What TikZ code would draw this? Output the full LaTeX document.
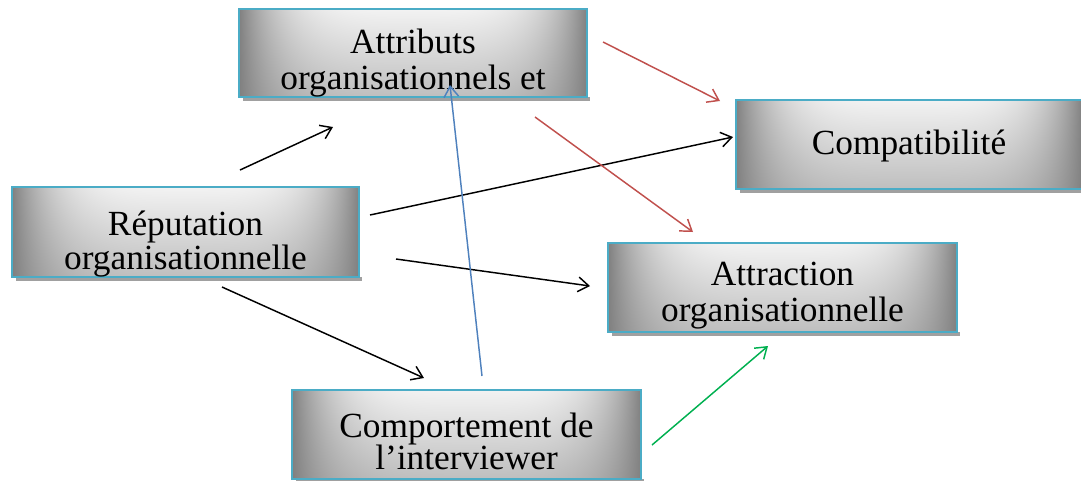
\documentclass[tikz,border=0pt]{standalone}
\usepackage{fontspec}
\setmainfont{Liberation Serif}
\usetikzlibrary{arrows.meta}
\definecolor{bordc}{HTML}{4BACC6}
\definecolor{shadc}{HTML}{A0A0A0}
\definecolor{redc}{HTML}{C0504D}
\definecolor{bluec}{HTML}{4F81BD}
\definecolor{greenc}{HTML}{00B050}
\pgfdeclarefunctionalshading{boxshade}{\pgfpoint{0bp}{0bp}}{\pgfpoint{100bp}{100bp}}{}{
  25 sub 50 div exch 25 sub 50 div
  2 mul 1 sub dup mul dup mul 1 exch sub
  exch 0.45 mul 0.55 add mul
  0.45 mul 0.5 add
  dup dup
}
\tikzset{
  gbox/.style={shade, shading=boxshade, draw=bordc, line width=1.5pt, inner sep=0pt},
  lbl/.style={anchor=base, inner sep=0pt, font=\fontsize{26.5}{26.5}\selectfont},
  arr/.style={line width=1.1pt, -{Straight Barb[length=8pt,width=11pt,line width=1.1pt]}},
}
\begin{document}
\begin{tikzpicture}[x=0.75pt,y=-0.75pt]
\useasboundingbox (0,0) rectangle (1081,480);
% shadows
\fill[shadc] (243,97) rectangle (590,101);
\fill[shadc] (16,277) rectangle (362,281);
\fill[shadc] (612,332) rectangle (960,336);
\fill[shadc] (296,479) rectangle (644,483);
\fill[shadc] (740,189) rectangle (1085,193);
% boxes
\node[gbox, minimum width=261pt, minimum height=66pt] (attr) at (413,53) {};
\node[gbox, minimum width=260.25pt, minimum height=67.5pt] (rep) at (185.5,232) {};
\node[gbox, minimum width=261.75pt, minimum height=66.75pt] (attrac) at (782.5,287.5) {};
\node[gbox, minimum width=261.75pt, minimum height=66.75pt] (comp) at (466.5,434.5) {};
\node[gbox, minimum width=260pt, minimum height=66.75pt] (compat) at (909,144.5) {};
% texts
\begin{scope}
\clip (attr.south west) rectangle (attr.north east);
\node[lbl] (attrA) at (413,53) {Attributs};
\node[lbl] (attrB) at (413,89) {organisationnels et};
\end{scope}
\begin{scope}
\clip (rep.south west) rectangle (rep.north east);
\node[lbl] (repA) at (185.5,235) {Réputation};
\node[lbl] (repB) at (185.5,269) {organisationnelle};
\end{scope}
\begin{scope}
\clip (attrac.south west) rectangle (attrac.north east);
\node[lbl] (attracA) at (782.5,285) {Attraction};
\node[lbl] (attracB) at (782.5,321) {organisationnelle};
\end{scope}
\begin{scope}
\clip (comp.south west) rectangle (comp.north east);
\node[lbl] (compA) at (466.5,437) {Comportement de};
\node[lbl] (compB) at (466.5,469) {l’interviewer};
\end{scope}
\node[lbl] (compatA) at (909,154) {Compatibilité};
% arrow ends
\coordinate (s1) at (240,170); \coordinate (e1) at (333,127);
\coordinate (s2) at (370,215); \coordinate (e2) at (733,137);
\coordinate (s3) at (396,259); \coordinate (e3) at (590,286);
\coordinate (s4) at (222,287); \coordinate (e4) at (424,378);
\coordinate (s5) at (482,376); \coordinate (e5) at (450,85);
\coordinate (s6) at (603,42);  \coordinate (e6) at (720,101);
\coordinate (s7) at (535,117); \coordinate (e7) at (693,232);
\coordinate (s8) at (652,445); \coordinate (e8) at (768,346);
\draw[arr] (s1) -- (e1);
\draw[arr] (s2) -- (e2);
\draw[arr] (s3) -- (e3);
\draw[arr] (s4) -- (e4);
\draw[arr, bluec] (s5) -- (e5);
\draw[arr, redc] (s6) -- (e6);
\draw[arr, redc] (s7) -- (e7);
\draw[arr, greenc] (s8) -- (e8);
\end{tikzpicture}
\end{document}
